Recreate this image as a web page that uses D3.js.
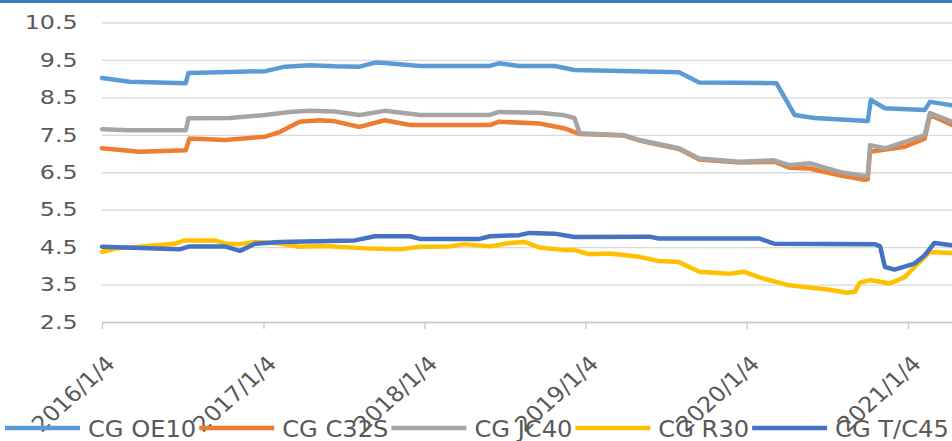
<!DOCTYPE html>
<html>
<head>
<meta charset="utf-8">
<script src="https://cdn.jsdelivr.net/npm/d3@7"></script>
<style>
  body { margin: 0; background: #fff; }
  svg { display: block; }
</style>
</head>
<body>
<svg id="chart" width="952" height="441"></svg>
<script>
// Series names, in drawing order
const seriesNames = ["CG OE10", "CG C32S", "CG JC40", "CG R30", "CG T/C45"];

// Axis labels
const tickLabels = ["2016/1/4", "2017/1/4", "2018/1/4", "2019/1/4", "2020/1/4", "2021/1/4"];
const yTicks = [2.5, 3.5, 4.5, 5.5, 6.5, 7.5, 8.5, 9.5, 10.5];

// Price series: [date, value]
const oe10 = [
  ["2016-01-04", 9.02], ["2016-03-06", 8.92], ["2016-07-12", 8.88], ["2016-07-18", 9.15],
  ["2016-10-20", 9.18], ["2017-01-08", 9.20], ["2017-02-22", 9.32], ["2017-04-19", 9.36],
  ["2017-06-15", 9.33], ["2017-08-10", 9.32], ["2017-09-14", 9.43], ["2017-10-06", 9.42],
  ["2017-12-25", 9.34], ["2018-06-01", 9.34], ["2018-06-22", 9.41], ["2018-08-07", 9.34],
  ["2018-10-26", 9.34], ["2018-12-10", 9.23], ["2019-08-04", 9.17], ["2019-09-19", 8.90],
  ["2020-03-12", 8.88], ["2020-04-22", 8.03], ["2020-06-06", 7.95], ["2020-10-05", 7.87],
  ["2020-10-12", 8.43], ["2020-11-13", 8.21], ["2021-02-11", 8.16], ["2021-02-23", 8.38],
  ["2021-04-14", 8.29]
];
const c32s = [
  ["2016-01-04", 7.14], ["2016-03-29", 7.05], ["2016-07-12", 7.09], ["2016-07-20", 7.40],
  ["2016-10-08", 7.36], ["2017-01-08", 7.45], ["2017-02-11", 7.58], ["2017-03-27", 7.85],
  ["2017-05-11", 7.89], ["2017-06-15", 7.86], ["2017-08-10", 7.71], ["2017-10-06", 7.89],
  ["2017-12-02", 7.76], ["2018-06-01", 7.76], ["2018-06-22", 7.85], ["2018-09-22", 7.80],
  ["2018-11-18", 7.67], ["2018-12-22", 7.52], ["2019-04-02", 7.48], ["2019-05-06", 7.35],
  ["2019-08-04", 7.12], ["2019-09-19", 6.84], ["2019-12-19", 6.76], ["2020-03-07", 6.78],
  ["2020-04-10", 6.62], ["2020-05-26", 6.60], ["2020-08-02", 6.42], ["2020-09-28", 6.30],
  ["2020-10-05", 6.31], ["2020-10-10", 7.05], ["2020-12-28", 7.18], ["2021-02-11", 7.40],
  ["2021-02-23", 8.03], ["2021-04-14", 7.76]
];
const jc40 = [
  ["2016-01-04", 7.65], ["2016-03-06", 7.62], ["2016-07-12", 7.62], ["2016-07-18", 7.94],
  ["2016-10-20", 7.95], ["2017-01-08", 8.03], ["2017-03-04", 8.11], ["2017-04-19", 8.14],
  ["2017-06-15", 8.12], ["2017-08-10", 8.03], ["2017-10-06", 8.14], ["2017-12-25", 8.03],
  ["2018-06-01", 8.03], ["2018-06-22", 8.11], ["2018-09-22", 8.09], ["2018-11-18", 8.02],
  ["2018-12-10", 7.95], ["2018-12-22", 7.54], ["2019-04-02", 7.49], ["2019-05-06", 7.36],
  ["2019-08-04", 7.14], ["2019-09-19", 6.87], ["2019-12-19", 6.78], ["2020-03-07", 6.82],
  ["2020-04-10", 6.69], ["2020-05-26", 6.74], ["2020-08-02", 6.51], ["2020-09-28", 6.40],
  ["2020-10-05", 6.40], ["2020-10-10", 7.22], ["2020-11-13", 7.14], ["2020-12-28", 7.31],
  ["2021-02-11", 7.49], ["2021-02-23", 8.08], ["2021-04-14", 7.85]
];
const r30 = [
  ["2016-01-04", 4.37], ["2016-02-03", 4.46], ["2016-06-17", 4.59], ["2016-07-09", 4.68],
  ["2016-09-16", 4.68], ["2016-10-08", 4.60], ["2016-11-12", 4.58], ["2016-12-16", 4.64],
  ["2017-01-31", 4.61], ["2017-03-27", 4.51], ["2017-05-22", 4.53], ["2017-09-02", 4.46],
  ["2017-11-09", 4.44], ["2017-12-25", 4.51], ["2018-03-02", 4.52], ["2018-04-05", 4.58],
  ["2018-06-01", 4.52], ["2018-07-16", 4.61], ["2018-08-19", 4.64], ["2018-09-22", 4.49],
  ["2018-11-18", 4.42], ["2018-12-10", 4.42], ["2019-01-13", 4.31], ["2019-02-28", 4.33],
  ["2019-05-06", 4.24], ["2019-06-19", 4.13], ["2019-08-04", 4.10], ["2019-09-19", 3.84],
  ["2019-11-27", 3.79], ["2019-12-30", 3.84], ["2020-02-03", 3.69], ["2020-04-10", 3.48],
  ["2020-07-10", 3.36], ["2020-08-20", 3.28], ["2020-09-06", 3.31], ["2020-09-17", 3.55],
  ["2020-10-10", 3.62], ["2020-11-24", 3.53], ["2020-12-28", 3.70], ["2021-01-19", 3.97],
  ["2021-02-23", 4.37], ["2021-04-14", 4.34]
];
const tc45 = [
  ["2016-01-04", 4.51], ["2016-06-28", 4.44], ["2016-07-20", 4.52], ["2016-10-08", 4.52],
  ["2016-11-12", 4.40], ["2016-12-16", 4.59], ["2017-02-11", 4.64], ["2017-07-30", 4.68],
  ["2017-09-14", 4.79], ["2017-12-02", 4.79], ["2017-12-25", 4.72], ["2018-05-09", 4.72],
  ["2018-06-01", 4.79], ["2018-08-07", 4.82], ["2018-08-30", 4.88], ["2018-10-26", 4.86],
  ["2018-12-10", 4.77], ["2019-05-29", 4.78], ["2019-06-19", 4.73], ["2020-02-03", 4.73],
  ["2020-03-07", 4.59], ["2020-10-21", 4.58], ["2020-11-02", 4.52], ["2020-11-13", 3.97],
  ["2020-12-05", 3.90], ["2021-01-19", 4.06], ["2021-02-11", 4.28], ["2021-03-05", 4.61],
  ["2021-04-14", 4.55]
];

const seriesValues = [oe10, c32s, jc40, r30, tc45];
const seriesColors = ["#5b9bd5", "#ed7d31", "#a5a5a5", "#ffc000", "#4472c4"];

const parseDate = d3.timeParse("%Y-%m-%d");
const parseTick = d3.timeParse("%Y/%m/%d");
const formatTick = d3.timeFormat("%Y/%-m/%-d");

const svg = d3.select("#chart");
const W = 952, H = 441;
const plot = { left: 102, right: 952, top: 22.5, bottom: 322 };
const textColor = "#595959";
const font = "'DejaVu Sans', sans-serif";

// Frame accent along the top edge
svg.append("rect").attr("x", 0).attr("y", 0).attr("width", W).attr("height", 3)
  .attr("fill", "#3a7cc3");

const x = d3.scaleTime()
  .domain([parseDate("2016-01-04"), parseDate("2021-04-14")])
  .range([plot.left, plot.right]);
const y = d3.scaleLinear()
  .domain([d3.min(yTicks), d3.max(yTicks)])
  .range([plot.bottom, plot.top]);

// Horizontal gridlines and value labels
const yAxis = svg.append("g")
  .attr("transform", `translate(${plot.left},0)`)
  .call(d3.axisLeft(y).tickValues(yTicks).tickFormat(d3.format(".1f"))
    .tickSize(-(plot.right - plot.left)).tickPadding(20));
yAxis.select(".domain").remove();
yAxis.selectAll(".tick line").attr("stroke", "#d9d9d9").attr("stroke-width", 1.3);
yAxis.selectAll(".tick text")
  .attr("fill", textColor).style("font-family", font).style("font-size", "19.5px")
  .attr("transform", "scale(1.22,1)");

// Date axis along the bottom
const xAxis = svg.append("g")
  .attr("transform", `translate(0,${plot.bottom})`)
  .call(d3.axisBottom(x).tickValues(tickLabels.map(parseTick)).tickFormat(formatTick)
    .tickSize(7).tickSizeOuter(0));
xAxis.select(".domain").attr("stroke", "#c8c8c8").attr("stroke-width", 1.3);
xAxis.selectAll(".tick line").attr("stroke", "#c8c8c8").attr("stroke-width", 1.3);
xAxis.selectAll(".tick text")
  .attr("fill", textColor).style("font-family", font).style("font-size", "21.5px")
  .attr("text-anchor", "end").attr("x", 0).attr("y", 0).attr("dy", 0)
  .attr("transform", "translate(14,43) scale(1.1,1) rotate(-45)");

// Series lines
const line = d3.line()
  .x(d => x(parseDate(d[0])))
  .y(d => y(d[1]));

svg.append("g").selectAll("path")
  .data(seriesValues)
  .join("path")
  .attr("d", line)
  .attr("fill", "none")
  .attr("stroke", (d, i) => seriesColors[i])
  .attr("stroke-width", 4.5)
  .attr("stroke-linejoin", "round")
  .attr("stroke-linecap", "round");

// Legend row
const legend = svg.append("g");
let cursor = 5;
const legendY = 428;
seriesNames.forEach((name, i) => {
  legend.append("line")
    .attr("x1", cursor).attr("x2", cursor + 75)
    .attr("y1", legendY).attr("y2", legendY)
    .attr("stroke", seriesColors[i]).attr("stroke-width", 4.5);
  const tx = cursor + 83;
  const t = legend.append("text")
    .attr("transform", `translate(${tx},${legendY + 8.5}) scale(1.05,1)`)
    .attr("fill", textColor).style("font-family", font).style("font-size", "23px")
    .text(name);
  cursor = tx + t.node().getComputedTextLength() * 1.05 + 3;
});
</script>
</body>
</html>
